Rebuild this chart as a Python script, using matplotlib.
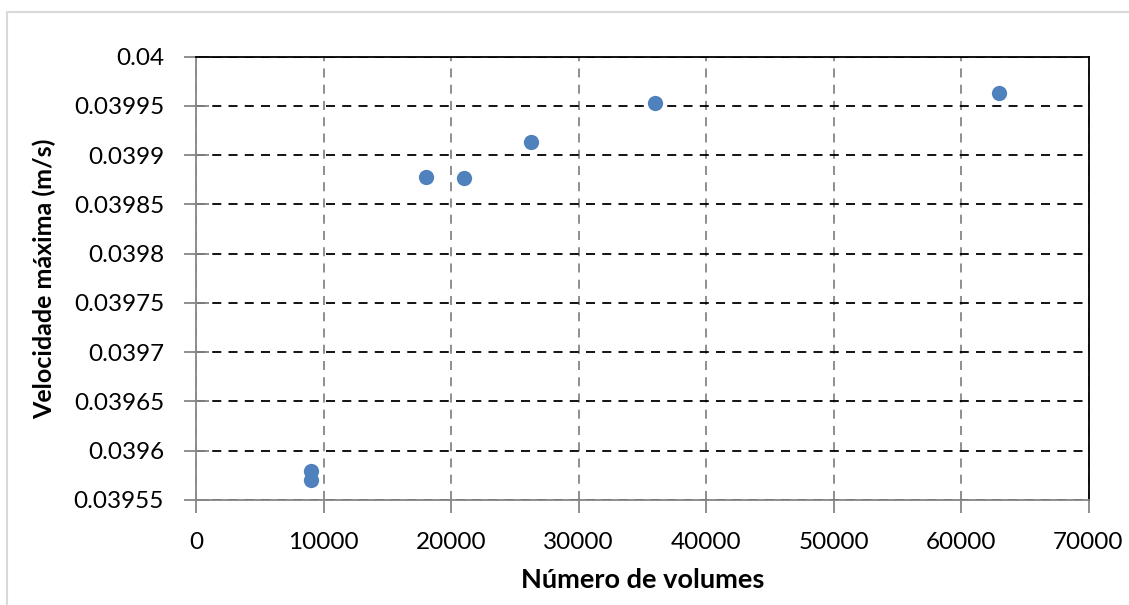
import matplotlib.pyplot as plt
from matplotlib.patches import Rectangle
from matplotlib.ticker import FuncFormatter

# malha: numero de volumes x velocidade maxima
volumes = [9000, 9000, 18000, 21000, 26250, 36000, 63000]
vel_max = [0.039579, 0.0395707, 0.0398777, 0.0398767, 0.0399138, 0.0399527, 0.0399629]

plt.rcParams['font.family'] = ['Lato', 'DejaVu Sans']

W, H = 1129, 605
fig = plt.figure(figsize=(W / 100, H / 100), dpi=100)

# moldura cinza do grafico
fig.patches.append(Rectangle((7 / W, -0.1), 1.2, 1 - 12 / H + 0.1,
                             transform=fig.transFigure, fill=False,
                             edgecolor='#d9d9d9', linewidth=1.5))

x0, x1, y0, y1 = 196, 1088.5, 56.7, 500
ax = fig.add_axes([x0 / W, 1 - y1 / H, (x1 - x0) / W, (y1 - y0) / H])

ax.scatter(volumes, vel_max, s=11 ** 2, color='#4f81bd', zorder=3, linewidths=0)

ax.set_xlim(0, 70000)
ax.set_ylim(0.03955, 0.04)
ax.set_xticks(range(0, 70001, 10000))
ax.set_yticks([0.03955 + 0.00005 * i for i in range(10)])
ax.xaxis.set_major_formatter(FuncFormatter(lambda v, p: '%d' % round(v)))
ax.yaxis.set_major_formatter(FuncFormatter(lambda v, p: ('%.5f' % v).rstrip('0')))

ax.yaxis.grid(True, color='black', linestyle=(0, (5, 4)), linewidth=1.3)
ax.xaxis.grid(True, color='#868686', linestyle=(0, (5, 4)), linewidth=1.3)
ax.set_axisbelow(True)

for side in ['left', 'bottom']:
    ax.spines[side].set_color('#868686')
    ax.spines[side].set_linewidth(1.3)
for side in ['top', 'right']:
    ax.spines[side].set_color('black')
    ax.spines[side].set_linewidth(1.3)

ax.tick_params(axis='y', direction='inout', length=18, width=1.3, color='#868686',
               labelsize=17.5, pad=14)
ax.tick_params(axis='x', direction='out', length=9, width=1.3, color='#868686',
               labelsize=17.5, pad=14)

ax.set_xlabel('Número de volumes', fontsize=19.5, fontweight='bold')
ax.set_ylabel('Velocidade máxima (m/s)', fontsize=18, fontweight='bold')
ax.xaxis.set_label_coords(0.5, -(580 - y1) / (y1 - y0), transform=ax.transAxes)
ax.yaxis.set_label_coords(-(x0 - 44) / (x1 - x0), 0.5, transform=ax.transAxes)
ax.xaxis.label.set_va('center')
ax.yaxis.label.set_va('center')

fig.savefig('out.png', dpi=100)
